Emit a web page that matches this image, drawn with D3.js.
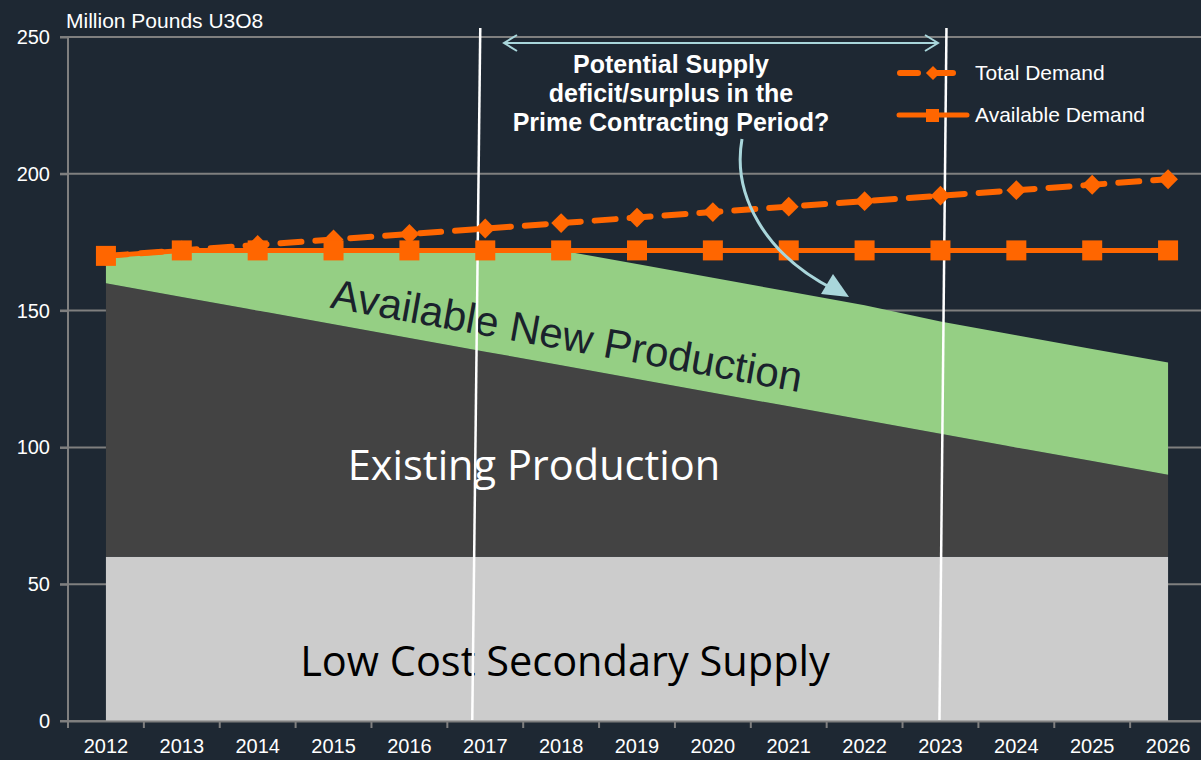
<!DOCTYPE html>
<html><head><meta charset="utf-8">
<script src="https://cdn.jsdelivr.net/npm/d3@7"></script>
<style>body{margin:0;background:#1e2833;overflow:hidden}</style>
</head><body>
<svg id="c" width="1201" height="760"></svg>
<script>
const years = ["2012","2013","2014","2015","2016","2017","2018","2019","2020","2021","2022","2023","2024","2025","2026"];
const secondarySupply = [60,60,60,60,60,60,60,60,60,60,60,60,60,60,60];
const existingProduction = [100,95,90,85,80,75,70,65,60,55,50,45,40,35,30];
const newProduction = [10,17,22,27,32,37,42,42,42,42,42,41,41,41,41];
const totalDemand = [170,172,174,176,178,180,182,184,186,188,190,192,194,196,198];
const availableDemand = [170,172,172,172,172,172,172,172,172,172,172,172,172,172,172];
const yTicks = [0,50,100,150,200,250];

const svg = d3.select("#c");
svg.append("rect").attr("width",1201).attr("height",760).attr("fill","#1e2833");
const x = d3.scaleBand().domain(years).range([68,1206]).padding(0);
const y = d3.scaleLinear().domain([0,250]).range([721,37]);
const cx = d => x(d)+x.bandwidth()/2;
const axFont = "Liberation Sans, Arial, sans-serif";

// grid
svg.append("g").selectAll("line").data(yTicks).join("line")
  .attr("x1",60).attr("x2",1201).attr("y1",d=>y(d)).attr("y2",d=>y(d))
  .attr("stroke","#7f7f7f").attr("stroke-width",2);

// stacked areas
const rows = years.map((yr,i)=>({yr, s:secondarySupply[i], e:existingProduction[i], n:newProduction[i]}));
const stack = d3.stack().keys(["s","e","n"])(rows);
const colors = {s:"#cccccc", e:"#434343", n:"#95cf84"};
const area = d3.area().x(d=>cx(d.data.yr)).y0(d=>y(d[0])).y1(d=>y(d[1]));
svg.append("g").selectAll("path").data(stack).join("path")
  .attr("d",area).attr("fill",d=>colors[d.key]);

// axes
const yAxis = svg.append("g").attr("transform","translate(68,0)")
  .call(d3.axisLeft(y).tickValues(yTicks).tickSize(8).tickPadding(10));
yAxis.select(".domain").attr("stroke","#7f7f7f").attr("stroke-width",2).attr("d","M0,37V721");
yAxis.selectAll(".tick line").attr("stroke","#7f7f7f").attr("stroke-width",2);
yAxis.selectAll("text").attr("fill","#ffffff").attr("font-family",axFont).attr("font-size",20);

const xAxis = svg.append("g").attr("transform","translate(0,721)")
  .call(d3.axisBottom(x).tickSize(0).tickPadding(18));
xAxis.select(".domain").attr("stroke","#7f7f7f").attr("stroke-width",2);
xAxis.selectAll("text").attr("fill","#ffffff").attr("font-family",axFont).attr("font-size",20);
svg.append("g").selectAll("line").data(years).join("line")
  .attr("x1",d=>x(d)).attr("x2",d=>x(d)).attr("y1",721).attr("y2",728)
  .attr("stroke","#7f7f7f").attr("stroke-width",2);

svg.append("text").attr("x",66).attr("y",28).text("Million Pounds U3O8")
  .attr("fill","#ffffff").attr("font-family",axFont).attr("font-size",21);

// area labels
const lblFont = "Open Sans, Lato, sans-serif";
const anp = svg.append("text").attr("transform",`translate(567,335) rotate(10.2)`)
  .attr("text-anchor","middle").attr("dy","0.36em").attr("fill","#1a222c").attr("font-family",axFont).attr("font-size",40)
  .text("Available New Production");
const w = anp.node().getComputedTextLength();
anp.attr("font-size", 40*478/w);
svg.append("text").attr("x",534).attr("y",y(88)).attr("text-anchor","middle")
  .attr("fill","#ffffff").attr("font-family",lblFont).attr("font-size",41.5).text("Existing Production");
svg.append("text").attr("x",565).attr("y",y(16.5)).attr("text-anchor","middle")
  .attr("fill","#000000").attr("font-family",lblFont).attr("font-size",41.5).text("Low Cost Secondary Supply");

// vertical white lines
[["2017",-5,-13],["2023",6,-1]].forEach(([yr,top,bot])=>{
  svg.append("line").attr("x1",cx(yr)+top).attr("y1",28).attr("x2",cx(yr)+bot).attr("y2",720)
    .attr("stroke","#ffffff").attr("stroke-width",2.5);
});

// lines
const line = d3.line().x((d,i)=>cx(years[i])).y(d=>y(d));
svg.append("path").attr("d",line(totalDemand)).attr("fill","none").attr("stroke","#ff6600")
  .attr("stroke-width",6).attr("stroke-dasharray","21,14").attr("stroke-linecap","round");
svg.append("g").selectAll("rect").data(totalDemand).join("rect")
  .attr("x",-7).attr("y",-7).attr("width",14).attr("height",14)
  .attr("transform",(d,i)=>`translate(${cx(years[i])},${y(d)}) rotate(45)`)
  .attr("fill","#ff6600");
svg.append("path").attr("d",line(availableDemand)).attr("fill","none").attr("stroke","#ff6600").attr("stroke-width",5);
svg.append("g").selectAll("rect").data(availableDemand).join("rect")
  .attr("x",(d,i)=>cx(years[i])-10).attr("y",d=>y(d)-10).attr("width",20).attr("height",20)
  .attr("fill","#ff6600");

// legend
const lg = svg.append("g");
lg.append("line").attr("x1",900).attr("x2",958).attr("y1",73).attr("y2",73).attr("stroke","#ff6600")
  .attr("stroke-width",6).attr("stroke-dasharray","18,17").attr("stroke-linecap","round");
lg.append("rect").attr("x",-5).attr("y",-5).attr("width",10).attr("height",10)
  .attr("transform","translate(933,73) rotate(45)").attr("fill","#ff6600");
lg.append("line").attr("x1",899).attr("x2",967).attr("y1",115).attr("y2",115).attr("stroke","#ff6600")
  .attr("stroke-width",5).attr("stroke-linecap","round");
lg.append("rect").attr("x",926).attr("y",109).attr("width",13).attr("height",13).attr("fill","#ff6600");
lg.append("text").attr("x",975).attr("y",80).text("Total Demand").attr("fill","#ffffff")
  .attr("font-family",axFont).attr("font-size",21);
lg.append("text").attr("x",975).attr("y",122).text("Available Demand").attr("fill","#ffffff")
  .attr("font-family",axFont).attr("font-size",21);

// annotation
const ac = "#a9d6db";
const an = svg.append("g");
an.append("line").attr("x1",504).attr("x2",938).attr("y1",43).attr("y2",43).attr("stroke",ac).attr("stroke-width",2);
an.append("path").attr("d","M517,35 L504,43 L517,51").attr("fill","none").attr("stroke",ac).attr("stroke-width",2);
an.append("path").attr("d","M925,35 L938,43 L925,51").attr("fill","none").attr("stroke",ac).attr("stroke-width",2);
const at = an.append("text").attr("text-anchor","middle").attr("fill","#ffffff")
  .attr("font-family",axFont).attr("font-weight","bold").attr("font-size",25);
[["Potential Supply",73],["deficit/surplus in the",102],["Prime Contracting Period?",131]].forEach(([t,yy])=>{
  at.append("tspan").attr("x",671).attr("y",yy).text(t);
});
an.append("path").attr("d","M742,139 C732,195 765,255 835,290").attr("fill","none").attr("stroke",ac).attr("stroke-width",3);
an.append("path").attr("d","M821,294 L849,297 L833,274 Z").attr("fill",ac);
</script>
</body></html>
